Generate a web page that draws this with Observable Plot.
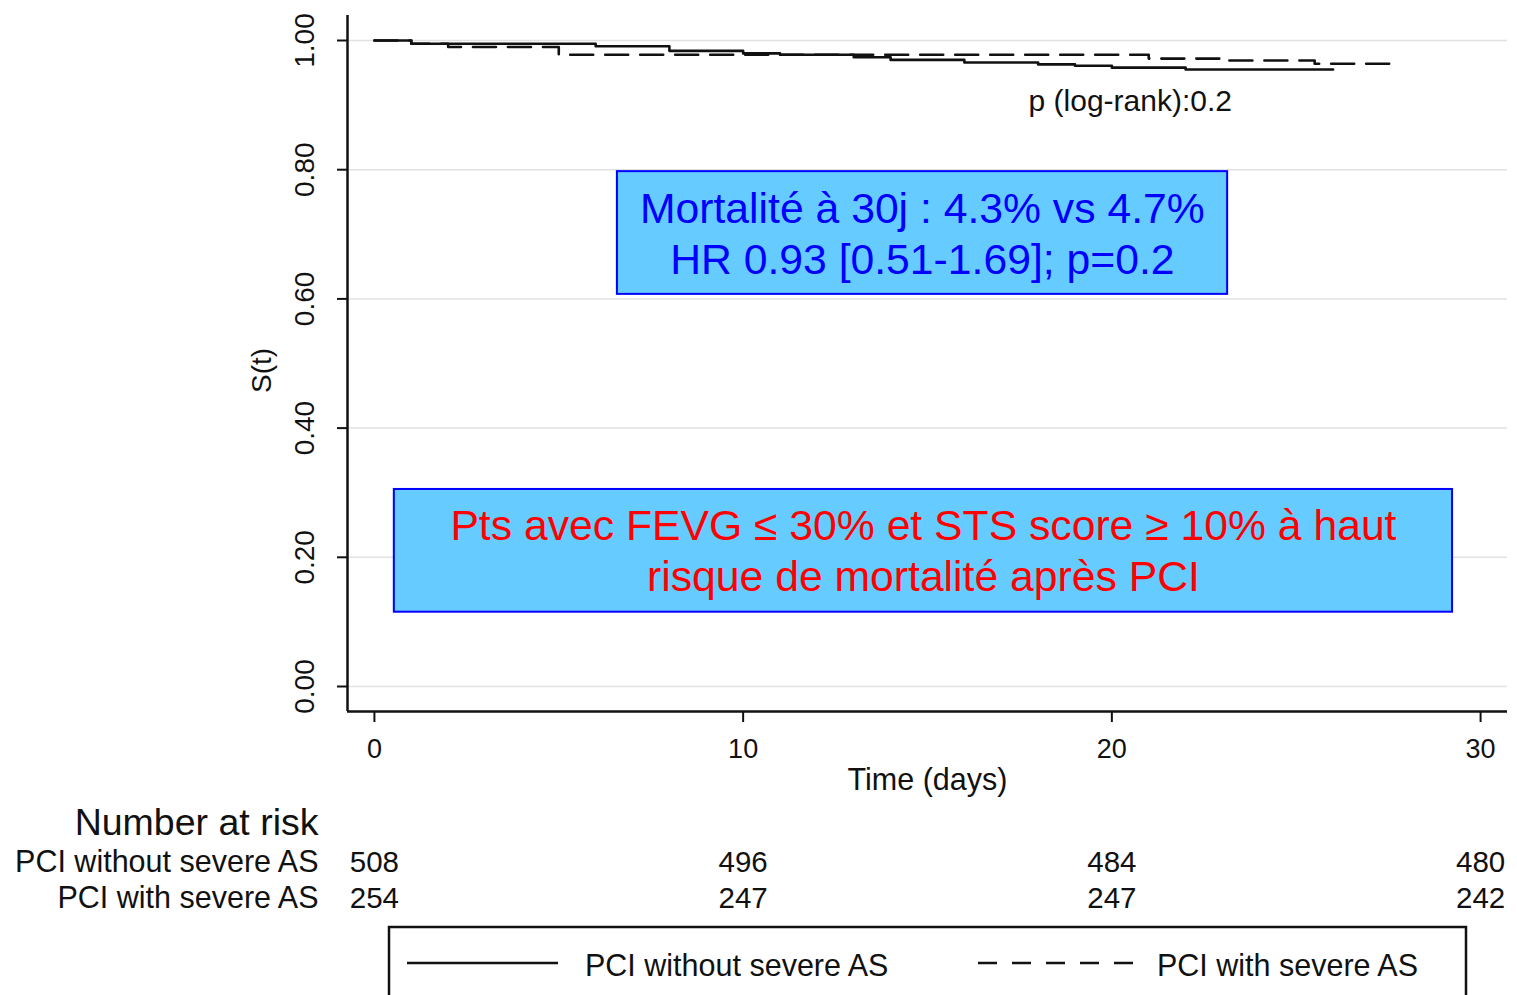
<!DOCTYPE html>
<html>
<head>
<meta charset="utf-8">
<script src="https://cdn.jsdelivr.net/npm/d3@7"></script>
<script src="https://cdn.jsdelivr.net/npm/@observablehq/plot@0.6"></script>
<style>
  html, body { margin: 0; padding: 0; background: #fff; }
  #chart { width: 1517px; height: 995px; overflow: hidden; }
</style>
</head>
<body>
<div id="chart"></div>
<script>
// ---- Data ----
const timeWithout = [0, 1, 6, 8, 10, 11, 13, 14, 16, 18, 19, 20, 22, 26];
const survWithout = [1.000, 0.995, 0.991, 0.984, 0.980, 0.978, 0.974, 0.970, 0.966, 0.963, 0.961, 0.958, 0.955, 0.955];
const timeWith = [0, 1, 2, 5, 21, 23, 25.5, 27.8];
const survWith = [1.000, 0.995, 0.990, 0.978, 0.972, 0.969, 0.964, 0.964];

const seriesNames = ["PCI without severe AS", "PCI with severe AS"];
const xTicks = [0, 10, 20, 30];
const yTicks = [0, 0.2, 0.4, 0.6, 0.8, 1.0];
const riskTimes = [0, 10, 20, 30];
const riskWithout = [508, 496, 484, 480];
const riskWith = [254, 247, 247, 242];

const pText = "p (log-rank):0.2";
const box1Text = "Mortalité à 30j : 4.3% vs 4.7%\nHR 0.93 [0.51-1.69]; p=0.2";
const box2Text = "Pts avec FEVG ≤ 30% et STS score ≥ 10% à haut\nrisque de mortalité après PCI";

// ---- Build tables ----
const kmData = [
  ...timeWithout.map((t, i) => ({time: t, surv: survWithout[i], group: seriesNames[0]})),
  ...timeWith.map((t, i) => ({time: t, surv: survWith[i], group: seriesNames[1]}))
];
const riskRows = riskTimes.map((t, i) => ({time: t, without: riskWithout[i], with: riskWith[i]}));

const xDomain = [-0.73, 30.73];
const yDomain = [-0.0387, 1.0387];
const FONT = "'Liberation Sans', Arial, Helvetica, sans-serif";
const INK = "#111";

const annotations = [
  {x1: 6.59, x2: 23.14, y1: 0.607, y2: 0.797, xc: 14.86, yc: 0.703, text: box1Text, color: "#0000ff"},
  {x1: 0.54, x2: 29.24, y1: 0.115, y2: 0.305, xc: 14.89, yc: 0.2125, text: box2Text, color: "#ff0000"}
];

const plot = Plot.plot({
  width: 1517,
  height: 995,
  marginLeft: 347,
  marginRight: 10,
  marginTop: 15,
  marginBottom: 284,
  style: {fontFamily: FONT, background: "#fff", color: INK},
  x: {domain: xDomain},
  y: {domain: yDomain},
  marks: [
    Plot.ruleY(yTicks, {stroke: "#e2e2e2", strokeWidth: 1.5}),
    Plot.rect(annotations, {x1: "x1", x2: "x2", y1: "y1", y2: "y2", fill: "#66ccff", stroke: "#0000ff", strokeWidth: 2}),
    Plot.text(annotations, {x: "xc", y: "yc", text: "text", fill: "color", fontSize: 42.7, lineHeight: 1.2}),
    Plot.line(kmData.filter(d => d.group === seriesNames[0]), {x: "time", y: "surv", curve: "step-after", stroke: "#111", strokeWidth: 2.6}),
    Plot.line(kmData.filter(d => d.group === seriesNames[1]), {x: "time", y: "surv", curve: "step-after", stroke: "#111", strokeWidth: 2.6, strokeDasharray: "23,12"}),
    Plot.text([pText], {x: 20.5, y: 0.906, text: d => d, fontSize: 30, fill: INK}),
    Plot.ruleX([xDomain[0]], {stroke: "#111", strokeWidth: 2.5}),
    Plot.ruleY([yDomain[0]], {stroke: "#111", strokeWidth: 2.5}),
    Plot.axisY({ticks: yTicks, tickSize: 10, tickFormat: () => "", strokeWidth: 2, label: null}),
    Plot.text(yTicks, {y: d => d, text: d => d.toFixed(2), frameAnchor: "left", textAnchor: "middle", lineAnchor: "middle", dx: -42, rotate: -90, fontSize: 28, fill: INK}),
    Plot.text(["S(t)"], {text: d => d, frameAnchor: "left", textAnchor: "middle", lineAnchor: "middle", dx: -85, dy: 7, rotate: -90, fontSize: 28, fill: INK}),
    Plot.axisX({ticks: xTicks, tickSize: 11, tickPadding: 16, fontSize: 27, strokeWidth: 2, label: null, tickFormat: d => String(d)}),
    Plot.text(["Time (days)"], {text: d => d, frameAnchor: "bottom", lineAnchor: "middle", dy: 69, fontSize: 30.5, fill: INK}),
    // Number at risk table
    Plot.text(["Number at risk"], {text: d => d, frameAnchor: "bottom-left", lineAnchor: "middle", dx: -29, dy: 111, textAnchor: "end", fontSize: 37.5, fill: INK}),
    Plot.text([seriesNames[0]], {text: d => d, frameAnchor: "bottom-left", lineAnchor: "middle", dx: -29, dy: 151, textAnchor: "end", fontSize: 30.5, fill: INK}),
    Plot.text([seriesNames[1]], {text: d => d, frameAnchor: "bottom-left", lineAnchor: "middle", dx: -29, dy: 187, textAnchor: "end", fontSize: 30.5, fill: INK}),
    Plot.text(riskRows, {x: "time", text: "without", frameAnchor: "bottom", lineAnchor: "middle", dy: 151, fontSize: 29.5, fill: INK}),
    Plot.text(riskRows, {x: "time", text: "with", frameAnchor: "bottom", lineAnchor: "middle", dy: 187, fontSize: 29.5, fill: INK})
  ]
});

document.getElementById("chart").appendChild(plot);

// ---- Legend box drawn under the risk table ----
const svg = d3.select(plot);
const lg = svg.append("g").attr("font-family", FONT).attr("text-anchor", "start");
lg.append("rect").attr("x", 389).attr("y", 927).attr("width", 1077).attr("height", 90)
  .attr("fill", "none").attr("stroke", "#111").attr("stroke-width", 2.5);
lg.append("line").attr("x1", 407).attr("x2", 558).attr("y1", 963).attr("y2", 963)
  .attr("stroke", "#111").attr("stroke-width", 2.6);
lg.append("text").attr("x", 585).attr("y", 965).attr("dy", "0.35em").attr("text-anchor", "start")
  .attr("font-size", 30.5).attr("fill", INK).text(seriesNames[0]);
lg.append("line").attr("x1", 978).attr("x2", 1133).attr("y1", 963).attr("y2", 963)
  .attr("stroke", "#111").attr("stroke-width", 2.6).attr("stroke-dasharray", "19,15");
lg.append("text").attr("x", 1157).attr("y", 965).attr("dy", "0.35em").attr("text-anchor", "start")
  .attr("font-size", 30.5).attr("fill", INK).text(seriesNames[1]);
</script>
</body>
</html>
